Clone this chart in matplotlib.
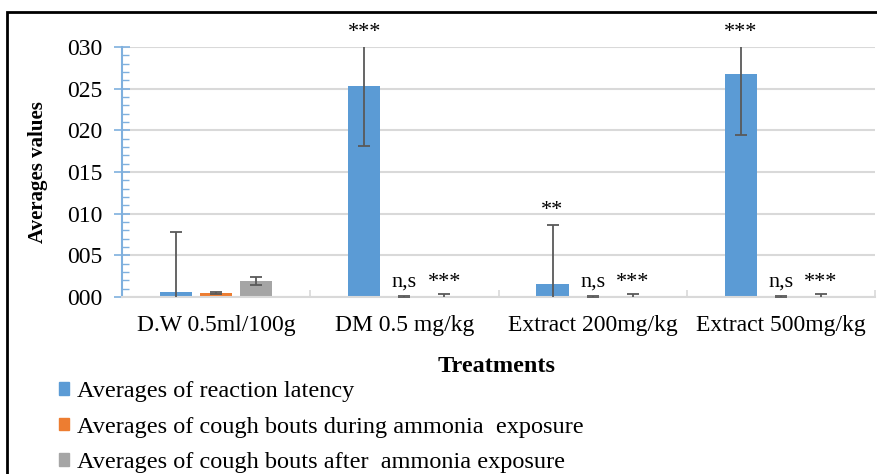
import matplotlib
matplotlib.use("Agg")
import matplotlib.pyplot as plt
import numpy as np
from matplotlib.patches import Rectangle, Patch
from matplotlib.ticker import MultipleLocator, FixedLocator, FuncFormatter

plt.rcParams['font.family'] = ['Liberation Serif', 'DejaVu Serif']

# data
treatments = ["D.W 0.5ml/100g", "DM 0.5 mg/kg", "Extract 200mg/kg", "Extract 500mg/kg"]
series_names = ["Averages of reaction latency",
                "Averages of cough bouts during ammonia  exposure",
                "Averages of cough bouts after  ammonia exposure"]
latency = [0.6, 25.3, 1.6, 26.8]
latency_err = [7.2, 7.2, 7.1, 7.3]
cough_during = [0.48, 0.02, 0.02, 0.02]
cough_during_err = [0.08, 0.08, 0.08, 0.08]
cough_after = [1.9, 0.02, 0.02, 0.02]
cough_after_err = [0.48, 0.4, 0.4, 0.4]
signif = [["", "", ""], ["***", "n,s", "***"], ["**", "n,s", "***"], ["***", "n,s", "***"]]

colors = ["#5B9BD5", "#ED7D31", "#A5A5A5"]
means = [latency, cough_during, cough_after]
errs = [latency_err, cough_during_err, cough_after_err]

fig = plt.figure(figsize=(8.77, 4.74), dpi=100)
ax = fig.add_axes([122/877, 1-297/474, 753/877, 250/474])

x = np.arange(len(treatments))
width = 0.171
step = 0.213
ymax = 30

for i in range(3):
    ax.bar(x + (i-1)*step, means[i], width, color=colors[i], zorder=2,
           yerr=errs[i], error_kw=dict(ecolor="#595959", elinewidth=1.3,
                                        capsize=4, capthick=1.3, zorder=3))

# significance labels
for g in range(len(treatments)):
    small_top = max(cough_during[g]+cough_during_err[g], cough_after[g]+cough_after_err[g])
    for i in range(3):
        txt = signif[g][i]
        if not txt:
            continue
        if i == 0:
            base = min(latency[g] + latency_err[g], ymax)
            off = 7
        else:
            base = small_top
            off = 5
        ax.annotate(txt, (x[g] + (i-1)*step, base), xytext=(0, off),
                    textcoords="offset points", ha="center", va="baseline",
                    fontsize=16, annotation_clip=False)

ax.set_ylim(0, ymax)
ax.set_xlim(-0.5, len(treatments)-0.5)

axis_blue = "#7FB0DE"
ax.yaxis.set_major_locator(MultipleLocator(5))
ax.yaxis.set_minor_locator(MultipleLocator(1))
ax.yaxis.set_major_formatter(FuncFormatter(lambda v, p: "%03d" % int(round(v))))
ax.tick_params(axis="y", which="major", direction="inout", length=12, width=1.2,
               color=axis_blue, labelsize=17, pad=8)
ax.tick_params(axis="y", which="minor", direction="in", length=5, width=1.0,
               color=axis_blue)
ax.grid(axis="y", color="#D9D9D9", linewidth=1.5, zorder=0)

ax.set_xticks(x)
ax.set_xticklabels(treatments)
ax.xaxis.set_minor_locator(FixedLocator(np.arange(-0.5, len(treatments), 1.0)))
ax.tick_params(axis="x", which="major", length=0, labelsize=17, pad=13)
ax.tick_params(axis="x", which="minor", direction="in", length=5, color="#D9D9D9", width=1.2)

for s in ["top", "right"]:
    ax.spines[s].set_visible(False)
ax.spines["left"].set_color(axis_blue)
ax.spines["left"].set_linewidth(1.5)
ax.spines["bottom"].set_color("#D9D9D9")
ax.spines["bottom"].set_linewidth(1.5)

ax.set_ylabel("Averages values", fontsize=15, fontweight="bold")
ax.yaxis.set_label_coords((48-122)/753, 0.5)
fig.text(497/877, 1-366/474, "Treatments", fontsize=17.5, fontweight="bold",
         ha="center", va="center")

handles = [Patch(color=c) for c in colors]
fig.legend(handles, series_names, loc="upper left", bbox_to_anchor=(59/877, 1-381/474),
           frameon=False, fontsize=17.5, handlelength=0.41, handleheight=0.41,
           handletextpad=0.33, labelspacing=0.6, borderaxespad=0, borderpad=0)

# outer frame
fig.patches.append(Rectangle((7/877, -0.1), 1.2, 1-12/474+0.1, transform=fig.transFigure,
                             fill=False, edgecolor="black", linewidth=2))

fig.savefig("out.png", dpi=100)
